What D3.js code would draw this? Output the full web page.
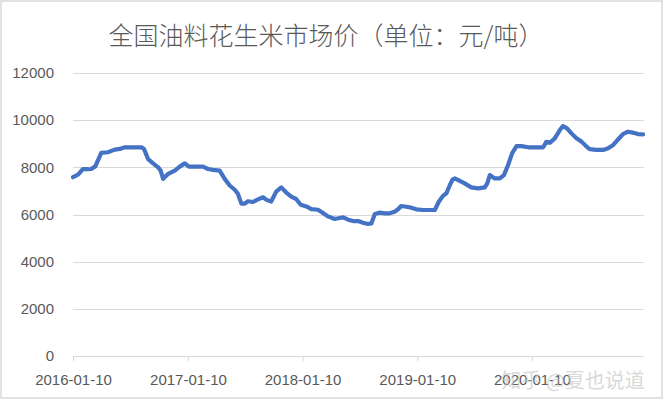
<!DOCTYPE html>
<html>
<head>
<meta charset="utf-8">
<script src="https://cdn.jsdelivr.net/npm/d3@7/dist/d3.min.js"></script>
<style>
  html, body { margin: 0; padding: 0; background: #fff; }
  svg { display: block; }
</style>
</head>
<body>
<script>
const title = "全国油料花生米市场价（单位：元/吨）";
const watermark = "知乎 @夏也说道";
const yTicks = [0, 2000, 4000, 6000, 8000, 10000, 12000];
const xTickLabels = ["2016-01-10", "2017-01-10", "2018-01-10", "2019-01-10", "2020-01-10"];
const dates = [
  "2016-01-10","2016-01-26","2016-02-11","2016-02-27","2016-03-08","2016-03-21","2016-04-09","2016-04-30",
  "2016-05-22","2016-06-07","2016-06-23","2016-07-14","2016-08-15","2016-08-23","2016-09-05","2016-09-21",
  "2016-10-07","2016-10-15","2016-10-23","2016-11-02","2016-11-08","2016-11-29","2016-12-15","2016-12-31",
  "2017-01-13","2017-02-05","2017-02-27","2017-03-15","2017-03-31","2017-04-21","2017-05-07","2017-05-23",
  "2017-06-08","2017-06-18","2017-06-29","2017-07-10","2017-07-20","2017-08-05","2017-08-21","2017-09-06",
  "2017-09-17","2017-10-02","2017-10-18","2017-11-03","2017-11-19","2017-12-05","2017-12-21","2018-01-04",
  "2018-01-22","2018-02-07","2018-02-28","2018-03-16","2018-04-01","2018-04-22","2018-05-08","2018-05-19",
  "2018-06-04","2018-06-20","2018-07-06","2018-07-21","2018-08-06","2018-08-17","2018-08-28","2018-09-13",
  "2018-09-29","2018-10-14","2018-10-30","2018-11-10","2018-11-20","2018-12-06","2018-12-22","2019-01-07",
  "2019-01-29","2019-02-19","2019-03-07","2019-03-20","2019-04-02","2019-04-13","2019-04-24","2019-05-02",
  "2019-05-09","2019-05-25","2019-06-10","2019-07-01","2019-07-23","2019-08-13","2019-08-21","2019-08-29",
  "2019-09-14","2019-09-30","2019-10-13","2019-10-26","2019-11-08","2019-11-22","2019-12-08","2019-12-29",
  "2020-01-19","2020-02-15","2020-02-25","2020-03-08","2020-03-23","2020-04-08","2020-04-18","2020-05-01",
  "2020-05-15","2020-05-31","2020-06-16","2020-07-02","2020-07-12","2020-08-02","2020-08-24","2020-09-09",
  "2020-09-25","2020-10-11","2020-10-26","2020-11-11","2020-11-27","2020-12-13","2020-12-29"
];
const prices = [
  7580,7690,7930,7920,7930,8040,8610,8640,
  8750,8780,8850,8850,8850,8780,8350,8170,
  8000,7860,7510,7650,7720,7860,8030,8170,
  8030,8030,8030,7930,7890,7860,7510,7230,
  7050,6880,6460,6460,6560,6530,6640,6730,
  6620,6550,6970,7150,6930,6760,6650,6410,
  6340,6230,6200,6060,5920,5810,5850,5880,
  5780,5720,5720,5650,5600,5620,6020,6080,
  6050,6050,6120,6220,6360,6330,6290,6220,
  6190,6190,6190,6550,6790,6900,7250,7470,
  7530,7430,7320,7150,7110,7150,7320,7670,
  7530,7530,7670,8090,8590,8900,8900,8850,
  8850,8850,9080,9050,9230,9580,9750,9650,
  9440,9230,9090,8880,8770,8740,8740,8810,
  8950,9190,9410,9510,9470,9410,9400
];

const W = 664, H = 400;
const parse = d3.timeParse("%Y-%m-%d");
const data = dates.map((d, i) => ({ date: parse(d), value: prices[i] }));

const svg = d3.select("body").append("svg").attr("width", W).attr("height", H);

svg.append("rect").attr("x", 1).attr("y", 1).attr("width", 661).attr("height", 397)
  .attr("fill", "#fff").attr("stroke", "#d9d9d9").attr("stroke-width", 1.5);

const x = d3.scaleTime()
  .domain([parse("2016-01-10"), parse("2021-01-01")])
  .range([73, 644]);
const y = d3.scaleLinear().domain([0, 12000]).range([356, 73]);

// gridlines
svg.append("g").selectAll("line").data(yTicks.filter(t => t > 0)).join("line")
  .attr("x1", 73).attr("x2", 644)
  .attr("y1", d => Math.round(y(d)) + 0.5).attr("y2", d => Math.round(y(d)) + 0.5)
  .attr("stroke", "#d9d9d9").attr("stroke-width", 1);

// y axis labels
const yAxis = d3.axisLeft(y).tickValues(yTicks).tickSize(0).tickPadding(19).tickFormat(d3.format("d"));
const gy = svg.append("g").attr("transform", "translate(73,0)").call(yAxis);
gy.select(".domain").remove();
gy.selectAll("text").attr("font-family", "'Liberation Sans', Arial, sans-serif")
  .attr("font-size", 15).attr("fill", "#595959");

// x axis
const xTickDates = xTickLabels.map(parse);
const xAxis = d3.axisBottom(x).tickValues(xTickDates).tickSize(5).tickPadding(13)
  .tickFormat((d, i) => xTickLabels[i]);
const gx = svg.append("g").attr("transform", "translate(0,356.5)").call(xAxis);
gx.select(".domain").attr("stroke", "#d9d9d9").attr("d", "M73,0H644");
gx.selectAll(".tick line").attr("stroke", "#d9d9d9");
gx.selectAll("text").attr("font-family", "'Liberation Sans', Arial, sans-serif")
  .attr("font-size", 15).attr("fill", "#595959");

// line
const line = d3.line().x(d => x(d.date)).y(d => y(d.value));
svg.append("path").datum(data).attr("d", line)
  .attr("fill", "none").attr("stroke", "#4472C4").attr("stroke-width", 4.2)
  .attr("stroke-linejoin", "round").attr("stroke-linecap", "round");

// title
svg.append("text").attr("x", 326).attr("y", 45).attr("text-anchor", "middle")
  .attr("font-family", "'Noto Sans CJK SC', sans-serif").attr("font-size", 25)
  .attr("font-weight", 300)
  .attr("fill", "#595959").text(title);

// watermark
svg.append("text").attr("x", 573).attr("y", 388).attr("text-anchor", "middle")
  .attr("font-family", "'Noto Sans CJK SC', sans-serif").attr("font-size", 20)
  .attr("fill", "#c8c8c8").attr("fill-opacity", 0.7).text(watermark);
</script>
</body>
</html>
